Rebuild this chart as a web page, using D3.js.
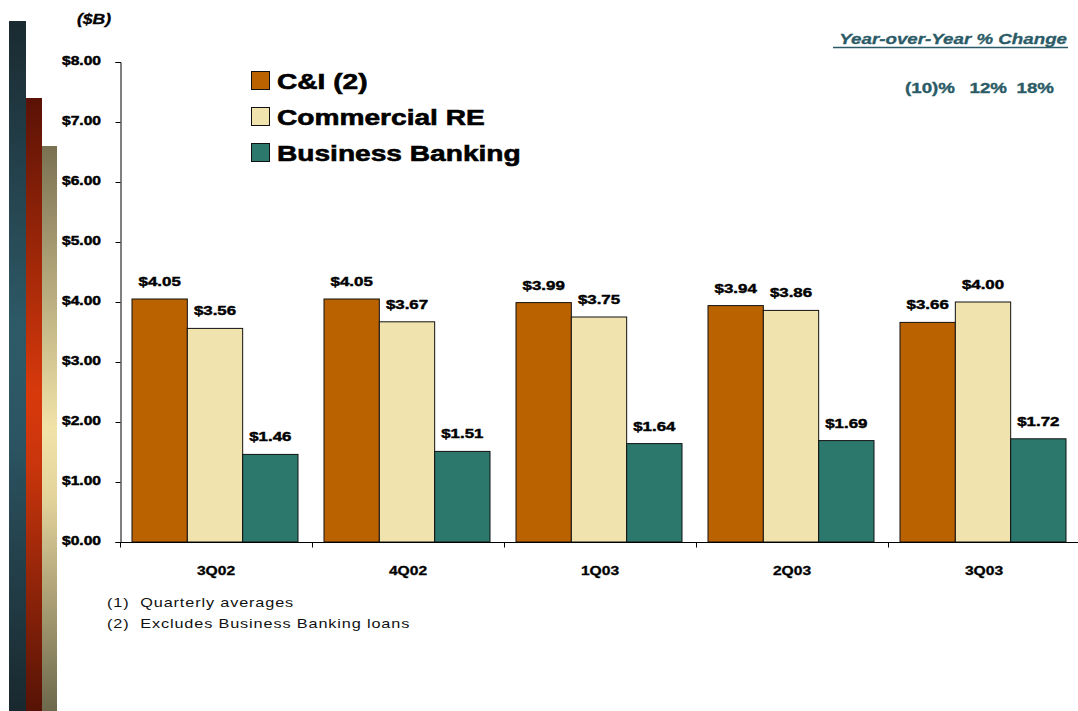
<!DOCTYPE html>
<html>
<head>
<meta charset="utf-8">
<script src="https://cdn.jsdelivr.net/npm/d3@7"></script>
<style>
  html, body { margin: 0; padding: 0; background: #fff; }
  svg { display: block; }
  text { font-family: "Liberation Sans", Arial, sans-serif; white-space: pre; }
</style>
</head>
<body>
<svg id="chart" width="1078" height="711"></svg>
<script>
// Average loans by quarter, $ billions
const quarters = ["3Q02", "4Q02", "1Q03", "2Q03", "3Q03"];
const seriesNames = ["C&I (2)", "Commercial RE", "Business Banking"];
const cni = [4.05, 4.05, 3.99, 3.94, 3.66];
const commercialRE = [3.56, 3.67, 3.75, 3.86, 4.00];
const businessBanking = [1.46, 1.51, 1.64, 1.69, 1.72];
const yTicks = [0, 1, 2, 3, 4, 5, 6, 7, 8];
const yoyChange = ["(10)%", "12%", "18%"];
const footnotes = ["(1)  Quarterly averages", "(2)  Excludes Business Banking loans"];

const seriesValues = [cni, commercialRE, businessBanking];
const colors = ["#bb6200", "#f0e3ad", "#2d786d"];
const STRETCH = 1.25; // glyphs are drawn wide

const svg = d3.select("#chart");

// helper: wide text anchored at (x, y); a hairline stroke gives the heavy weight
function wideText(g, x, y, str, opts) {
  const fill = opts.fill || "#000";
  const t = g.append("text")
    .attr("transform", `translate(${x},${y}) scale(${STRETCH},1)`)
    .attr("text-anchor", opts.anchor || "start")
    .attr("font-size", opts.size)
    .attr("font-weight", opts.weight || "bold")
    .attr("font-style", opts.style || "normal")
    .attr("fill", fill)
    .attr("xml:space", "preserve")
    .text(str);
  if (opts.heavy) t.attr("stroke", fill).attr("stroke-width", opts.heavy);
  if (opts.spacing) t.attr("letter-spacing", opts.spacing);
  return t;
}

// decorative side strips
const defs = svg.append("defs");
const strips = [
  { id: "gTeal", x: 9, w: 17, top: 21, stops: [["0", "#1a2a31"], ["0.45", "#2e5a68"], ["0.6", "#2c5563"], ["1", "#19282e"]] },
  { id: "gRed", x: 26, w: 16, top: 98, stops: [["0", "#5a1206"], ["0.48", "#d8390b"], ["0.6", "#c9350c"], ["1", "#561306"]] },
  { id: "gTan", x: 42, w: 15, top: 146, stops: [["0", "#7a7152"], ["0.5", "#f1e3a8"], ["0.62", "#e4d49c"], ["1", "#6d684c"]] }
];
strips.forEach(s => {
  const lg = defs.append("linearGradient").attr("id", s.id)
    .attr("x1", 0).attr("y1", 0).attr("x2", 0).attr("y2", 1);
  s.stops.forEach(([o, c]) => lg.append("stop").attr("offset", o).attr("stop-color", c));
  svg.append("rect").attr("x", s.x).attr("y", s.top).attr("width", s.w)
    .attr("height", 711 - s.top).attr("fill", `url(#${s.id})`);
});

// scales
const plotLeft = 120, plotRight = 1080, plotTop = 62, plotBottom = 542;
const x0 = d3.scaleBand().domain(quarters).range([plotLeft, plotRight]).padding(0);
const x1 = d3.scaleBand().domain(seriesNames).range([12, x0.bandwidth() - 14]).padding(0);
const y = d3.scaleLinear().domain([0, 8]).range([plotBottom, plotTop]);

// bars
const groups = svg.append("g").selectAll("g")
  .data(quarters).join("g")
  .attr("transform", q => `translate(${x0(q)},0)`);

groups.each(function (q, qi) {
  const g = d3.select(this);
  seriesNames.forEach((s, si) => {
    const v = seriesValues[si][qi];
    g.append("rect")
      .attr("x", x1(s)).attr("width", x1.bandwidth())
      .attr("y", y(v)).attr("height", y(0) - y(v))
      .attr("fill", colors[si]).attr("stroke", "#111").attr("stroke-width", 1);
    wideText(g, x1(s) + x1.bandwidth() / 2, y(v) - 13, d3.format("$.2f")(v),
      { size: 13.5, anchor: "middle", heavy: 0.45 });
  });
});

// y axis
const yAxis = d3.axisLeft(y).tickValues(yTicks).tickSize(5).tickSizeOuter(5)
  .tickFormat(d => d3.format("$.2f")(d));
const yg = svg.append("g").attr("transform", `translate(${plotLeft + 0.5},0)`).call(yAxis);
yg.select(".domain").attr("stroke", "#000");
yg.selectAll(".tick line").attr("stroke", "#000");
yg.selectAll(".tick text").remove();
yTicks.forEach(t => wideText(svg, 101, y(t) + 3, d3.format("$.2f")(t), { size: 12.5, anchor: "end", heavy: 0.45 }));

// x axis with ticks on group boundaries
const xg = svg.append("g").attr("transform", `translate(0,${plotBottom + 0.5})`);
xg.append("line").attr("x1", plotLeft).attr("x2", plotRight).attr("stroke", "#000");
quarters.forEach(q => {
  xg.append("line").attr("x1", x0(q) + 0.5).attr("x2", x0(q) + 0.5)
    .attr("y1", 0).attr("y2", 5).attr("stroke", "#000");
  wideText(svg, x0(q) + x0.bandwidth() / 2, 575, q, { size: 12.5, anchor: "middle", heavy: 0.3 });
});

// unit label
wideText(svg, 77, 24, "($B)", { size: 14, style: "italic", heavy: 0.3 });

// legend
const legend = svg.append("g");
seriesNames.forEach((s, i) => {
  const cy = 81 + i * 36;
  legend.append("rect").attr("x", 251.5).attr("y", cy - 9.5).attr("width", 18).attr("height", 18)
    .attr("fill", colors[i]).attr("stroke", "#111").attr("stroke-width", 1);
  wideText(legend, 277, cy + 8, s, { size: 22.5, heavy: 0.6 });
});

// year-over-year change
const yoyColor = "#2b5b67";
wideText(svg, 1067, 44, "Year-over-Year % Change", { size: 15, style: "italic", anchor: "end", fill: yoyColor, heavy: 0.3 });
svg.append("line").attr("x1", 833).attr("x2", 1068).attr("y1", 47.5).attr("y2", 47.5)
  .attr("stroke", yoyColor).attr("stroke-width", 1.5);
const yoyEnds = [955, 1007, 1054];
yoyChange.forEach((t, i) => wideText(svg, yoyEnds[i], 93, t, { size: 15, anchor: "end", fill: yoyColor, heavy: 0.35 }));

// footnotes
footnotes.forEach((f, i) => wideText(svg, 107, 607 + i * 21, f, { size: 13, weight: "normal", fill: "#111", spacing: 0.7 }));
</script>
</body>
</html>
